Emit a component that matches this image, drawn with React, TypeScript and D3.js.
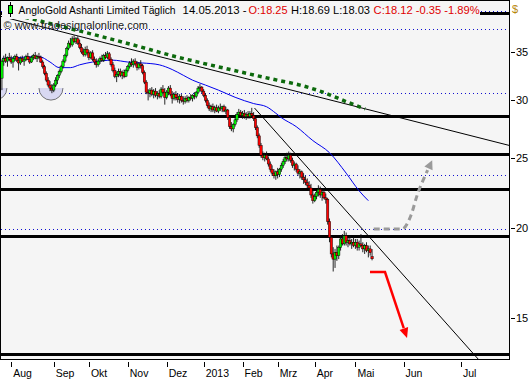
import React from 'react';
import * as d3 from 'd3';

// index 0 = first trading day of Aug 2012; candles from index -5
const firstIndex = -5;
const candles: [number, number, number, number][] = [
  [32.2,34.2,31.0,34.0],[34.0,34.6,33.5,34.3],[34.3,34.8,33.8,34.0],[34.0,34.5,33.4,34.4],[34.4,34.9,34.0,34.2],
  [34.2,34.6,33.7,33.9],[33.9,34.4,33.3,34.3],[34.3,34.7,34.0,34.5],[34.5,34.8,33.9,34.1],[34.1,34.4,33.0,33.8],
  [33.8,34.5,33.6,34.3],[34.3,34.6,33.9,34.0],[34.0,34.4,33.5,34.2],[34.2,34.7,34.0,34.5],[34.5,34.9,34.1,34.2],
  [34.2,34.5,33.7,33.9],[33.9,34.6,33.8,34.4],[34.4,34.8,34.1,34.6],[34.6,35.0,34.2,34.3],[34.3,34.7,33.9,34.5],
  [34.5,34.9,34.2,34.4],[34.4,34.6,33.8,33.9],[33.9,34.1,33.2,33.4],[33.4,33.6,32.5,32.7],[32.7,32.9,31.8,32.0],
  [32.0,32.3,31.3,31.5],[31.5,31.9,30.9,31.2],[31.2,31.6,30.7,31.0],[31.0,31.7,30.8,31.5],[31.5,32.3,31.3,32.0],
  [32.0,32.6,31.6,32.5],[32.5,33.1,32.2,32.9],[32.9,33.6,32.7,33.4],[33.4,34.2,33.2,34.0],[34.0,34.8,33.8,34.6],
  [34.6,35.6,34.4,35.4],[35.4,36.3,35.2,36.0],[36.0,36.6,35.5,35.8],[35.8,36.8,35.6,36.5],[36.5,36.9,36.0,36.2],
  [36.2,36.7,35.9,36.5],[36.5,36.8,35.8,36.0],[36.0,36.4,35.3,35.5],[35.5,35.9,34.8,35.0],[35.0,35.4,34.5,34.7],
  [34.7,35.6,34.5,35.3],[35.3,35.7,34.6,34.9],[34.9,35.2,34.1,34.4],[34.4,35.1,34.2,34.9],[34.9,35.2,34.0,34.2],
  [34.2,34.5,33.6,33.9],[33.9,34.3,33.3,33.6],[33.6,34.2,33.4,34.0],[34.0,34.5,33.7,34.3],[34.3,34.7,33.9,34.1],
  [34.1,34.8,33.9,34.6],[34.6,35.0,34.2,34.4],[34.4,35.1,34.2,34.8],[34.8,35.0,34.0,34.2],[34.2,34.4,33.4,33.6],
  [33.6,33.9,32.8,33.0],[33.0,33.3,32.2,32.4],[32.4,32.9,31.8,32.6],[32.6,33.2,32.3,32.9],[32.9,33.2,32.3,32.5],
  [32.5,33.0,32.1,32.8],[32.8,33.1,32.2,32.4],[32.4,33.2,32.3,33.0],[33.0,33.6,32.8,33.4],[33.4,34.0,33.2,33.8],
  [33.8,34.3,33.4,33.6],[33.6,34.2,33.3,34.0],[34.0,34.3,33.5,33.7],[33.7,34.0,33.0,33.3],[33.3,33.9,33.1,33.7],
  [33.7,34.1,33.2,33.5],[33.5,33.7,32.6,32.8],[32.8,33.0,31.6,31.8],[31.8,32.0,30.6,30.8],[30.8,31.1,30.0,30.7],
  [30.7,31.2,30.3,31.0],[31.0,31.3,30.4,30.6],[30.6,31.1,30.2,30.9],[30.9,31.2,30.3,30.5],[30.5,30.9,30.1,30.7],
  [30.7,31.0,30.2,30.4],[30.4,31.3,30.2,31.1],[31.1,31.5,30.6,30.8],[30.8,31.2,29.6,30.3],[30.3,31.0,30.1,30.8],
  [30.8,31.4,30.5,31.2],[31.2,31.5,30.4,30.6],[30.6,30.9,29.7,30.2],[30.2,30.8,30.0,30.6],[30.6,30.9,30.0,30.3],
  [30.3,30.7,29.8,30.1],[30.1,30.6,29.7,30.4],[30.4,30.6,29.8,30.0],[30.0,30.4,29.6,29.9],[29.9,30.4,29.7,30.2],
  [30.2,30.5,29.8,30.0],[30.0,30.4,29.8,30.3],[30.3,30.6,30.0,30.2],[30.2,30.6,29.9,30.5],[30.5,30.8,30.1,30.4],
  [30.4,30.9,30.2,30.8],[30.8,31.4,30.6,31.2],[31.2,31.6,30.9,31.3],[31.3,31.4,30.7,30.9],[30.9,31.1,30.3,30.5],
  [30.5,30.7,29.8,30.0],[30.0,30.2,29.3,29.5],[29.5,29.8,29.0,29.2],[29.2,29.6,28.9,29.4],[29.4,29.7,28.9,29.1],
  [29.1,29.5,28.8,29.3],[29.3,29.6,28.9,29.0],[29.0,29.5,28.8,29.3],[29.3,29.7,29.0,29.2],[29.2,29.5,28.9,29.4],
  [29.4,29.6,28.9,29.0],[29.0,29.4,28.7,29.1],[29.1,29.2,28.2,28.4],[28.4,28.6,27.4,27.6],[27.6,28.0,27.2,27.4],
  [27.4,27.9,27.1,27.8],[27.8,28.4,27.6,28.2],[28.2,28.9,28.0,28.7],[28.7,29.2,28.4,28.9],[28.9,29.1,28.4,28.6],
  [28.6,29.0,28.3,28.8],[28.8,29.1,28.3,28.5],[28.5,28.9,28.2,28.7],[28.7,29.0,28.3,28.5],[28.5,29.0,28.3,28.8],
  [28.8,29.3,28.5,28.6],[28.6,28.9,28.1,28.3],[28.3,28.5,27.3,27.5],[27.5,27.7,26.6,26.8],[26.8,27.0,25.8,26.0],
  [26.0,26.2,25.0,25.2],[25.2,25.5,24.8,25.0],[25.0,25.4,24.7,25.2],[25.2,25.5,24.8,24.9],[24.9,25.1,24.3,24.5],
  [24.5,24.7,23.9,24.1],[24.1,24.4,23.6,23.8],[23.8,24.1,23.4,23.6],[23.6,24.0,23.3,23.9],[23.9,24.2,23.4,23.7],
  [23.7,24.2,23.5,24.1],[24.1,24.6,23.9,24.4],[24.4,24.9,24.2,24.7],[24.7,25.2,24.5,25.0],[25.0,25.4,24.7,24.9],
  [24.9,25.5,24.7,25.2],[25.2,25.4,24.6,24.8],[24.8,25.0,24.2,24.4],[24.4,24.7,24.0,24.5],[24.5,24.6,23.9,24.1],
  [24.1,24.4,23.6,23.8],[23.8,24.1,23.4,23.9],[23.9,24.0,23.3,23.5],[23.5,23.8,23.0,23.3],[23.3,23.6,22.9,23.1],
  [23.1,23.4,22.7,22.9],[22.9,23.2,22.5,22.7],[22.7,23.0,22.0,22.2],[22.2,22.5,21.6,21.8],[21.8,22.3,21.7,22.1],
  [22.1,22.5,21.9,22.4],[22.4,22.9,22.1,22.6],[22.6,22.8,22.0,22.2],[22.2,22.6,21.8,22.4],[22.4,22.6,21.9,22.0],
  [22.0,22.3,21.6,21.9],[21.9,22.0,20.2,20.4],[20.4,20.6,19.1,19.4],[19.4,19.5,18.2,18.4],[18.4,18.8,17.4,18.1],
  [18.1,18.7,17.6,18.5],[18.5,18.9,18.0,18.3],[18.3,18.9,18.1,18.8],[18.8,19.5,18.6,19.3],[19.3,19.6,18.9,19.0],
  [19.0,19.8,18.9,19.5],[19.5,19.7,18.9,19.1],[19.1,19.4,18.8,19.2],[19.2,19.5,18.9,19.0],[19.0,19.3,18.7,19.1],
  [19.1,19.4,18.8,18.9],[18.9,19.3,18.7,19.1],[19.1,19.3,18.6,18.8],[18.8,19.2,18.6,19.0],[19.0,19.6,18.8,18.9],
  [18.9,19.1,18.5,18.7],[18.7,19.0,18.4,18.9],[18.9,19.1,18.5,18.6],[18.6,18.9,18.2,18.7],[18.7,18.9,18.3,18.47],
  [18.25,18.69,18.03,18.12],
];

// moving average [index, price]
const maPoints: [number, number][] = [
  [-5, 34.3], [5, 34.4], [15, 34.5], [21, 33.9], [26, 33.3], [32, 33.3], [37, 33.6], [44, 33.9],
  [55, 34.1], [63, 33.9], [71, 33.8], [80, 33.6], [87, 33.1], [93, 32.5], [98, 32.0], [105, 31.5],
  [112, 31.0], [121, 30.3], [131, 29.7], [138, 29.4], [143, 28.8], [146, 28.4], [154, 27.6],
  [163, 26.4], [172, 25.4], [181, 23.8], [188, 22.5], [193, 21.8],
];

// green dotted curve
const greenCurve: [number, number][] = [
  [7.5, 39.1], [30.2, 37.8], [46.4, 36.9], [65.8, 35.8], [87.5, 34.56], [118.3, 33.1],
  [143.7, 32.0], [156.1, 31.5], [168.5, 30.8], [181.5, 29.85], [191.2, 29.2],
];

// straight trend lines
const trendLong: [number, number][] = [[-5.5, 39.2], [269, 26.0]];
const trendDown: [number, number][] = [[131.5, 29.28], [252.3, 13.17]];

// horizontal levels
const thickLevels = [39.63, 28.55, 25.3, 22.62, 19.48, 13.38];
const dottedLevels = [39.9, 37.66, 30.72, 23.66, 19.92];

// cycle-low half circles
const cycleLows: [number, number][] = [[-8.8, 31.2], [21.5, 31.2]];

// projection arrows
const grayArrow: [number, number][] = [
  [195.9, 19.92], [211.2, 19.92], [216.1, 20.83], [219.4, 22.2], [222.6, 23.28], [227.5, 24.8],
];
const redArrow: [number, number][] = [[193.9, 17.37], [202, 17.37], [213.9, 14.08]];

const yTicks = [15, 20, 25, 30, 35];
const monthTicks: [number, string][] = [
  [0, 'Aug'], [23, 'Sep'], [42, 'Okt'], [63, 'Nov'], [84, 'Dez'], [104, '2013'],
  [125, 'Feb'], [144, 'Mrz'], [164, 'Apr'], [186, 'Mai'], [212, 'Jun'], [243, 'Jul'],
];

const titleParts: { text: string; x: number; len: number; color: string }[] = [
  { text: 'AngloGold Ashanti Limited Täglich', x: 18.6, len: 157, color: '#000' },
  { text: '14.05.2013 -', x: 182.6, len: 64, color: '#000' },
  { text: 'O:18.25', x: 248.5, len: 39, color: '#e00000' },
  { text: 'H:18.69 L:18.03', x: 291, len: 79, color: '#000' },
  { text: 'C:18.12 -0.35 -1.89%', x: 373.6, len: 106, color: '#e00000' },
];

const PLOT = { left: 1, right: 509, top: 1, bottom: 359 };

function arrowHead(p0: [number, number], p1: [number, number], len: number, half: number) {
  const dx = p1[0] - p0[0], dy = p1[1] - p0[1];
  const d = Math.hypot(dx, dy) || 1;
  const ux = dx / d, uy = dy / d;
  const bx = p1[0] - ux * len, by = p1[1] - uy * len;
  return `M${p1[0]},${p1[1]}L${bx - uy * half},${by + ux * half}L${bx + uy * half},${by - ux * half}Z`;
}

export default function App() {
  const x = d3.scaleLinear().domain([-5.5, 269]).range([PLOT.left, PLOT.right]);
  const y = d3.scaleLog().domain([13.17, 41.17]).range([PLOT.bottom, PLOT.top]);

  const lin = d3.line<[number, number]>().x(d => x(d[0])).y(d => y(d[1]));
  const smooth = d3.line<[number, number]>().x(d => x(d[0])).y(d => y(d[1])).curve(d3.curveMonotoneX);

  const grayPx = grayArrow.map(d => [x(d[0]), y(d[1])] as [number, number]);
  const redPx = redArrow.map(d => [x(d[0]), y(d[1])] as [number, number]);
  const gn = grayPx.length, rn = redPx.length;

  const bodyW = 2.4;
  const r = 12;

  return (
    <>
      <style>{'body{margin:0;}'}</style>
      <svg width={531} height={380} style={{ display: 'block' }} fontFamily="'Liberation Sans', Arial, sans-serif">
        <defs>
          <clipPath id="plotClip">
            <rect x={PLOT.left} y={PLOT.top} width={PLOT.right - PLOT.left} height={PLOT.bottom - PLOT.top} />
          </clipPath>
        </defs>
        <rect x={0} y={0} width={531} height={380} fill="#fff" />
        <rect x={PLOT.left} y={PLOT.top} width={PLOT.right - PLOT.left} height={PLOT.bottom - PLOT.top} fill="#f5f5f5" />

        <g clipPath="url(#plotClip)">
          {dottedLevels.map((v, i) => (
            <line key={'dl' + i} x1={PLOT.left} x2={PLOT.right} y1={Math.round(y(v)) + 0.5} y2={Math.round(y(v)) + 0.5}
              stroke="#1010d0" strokeWidth={1} strokeDasharray="1 3" />
          ))}
          {thickLevels.map((v, i) => (
            <line key={'tl' + i} x1={PLOT.left} x2={PLOT.right} y1={Math.round(y(v))} y2={Math.round(y(v))}
              stroke="#000" strokeWidth={3} shapeRendering="crispEdges" />
          ))}

          {cycleLows.map((d, i) => {
            const cx = x(d[0]), cy = y(d[1]);
            const p = `M${cx - r},${cy}A${r},${r} 0 0 0 ${cx + r},${cy}`;
            return (
              <g key={'cl' + i}>
                <path d={p + 'Z'} fill="#d8d8f2" />
                <path d={p} fill="none" stroke="#555" strokeWidth={0.8} />
              </g>
            );
          })}

          <path d={lin(trendLong) || ''} fill="none" stroke="#000" strokeWidth={1} />
          <path d={lin(trendDown) || ''} fill="none" stroke="#000" strokeWidth={1} />

          <path d={smooth(greenCurve) || ''} fill="none" stroke="#0d6a0d" strokeWidth={3.5} strokeDasharray="4 4" />

          <path d={smooth(maPoints) || ''} fill="none" stroke="#0000ee" strokeWidth={1} />

          {/* candles: wicks first, then bodies */}
          {candles.map((c, k) => {
            const [, h, l] = c;
            const cx = x(firstIndex + k);
            return <line key={'w' + k} x1={cx} x2={cx} y1={y(h)} y2={y(l)} stroke="#111" strokeWidth={0.9} />;
          })}
          {candles.map((c, k) => {
            const [o, , , cl] = c;
            const cx = x(firstIndex + k);
            const top = y(Math.max(o, cl));
            const bot = y(Math.min(o, cl));
            const up = cl >= o;
            return (
              <rect key={'b' + k} x={cx - bodyW / 2} y={top} width={bodyW} height={Math.max(1, bot - top)}
                fill={up ? '#00f000' : '#ff0000'} stroke="#000" strokeWidth={0.45} />
            );
          })}

          <path d={d3.line().curve(d3.curveMonotoneX)(grayPx.slice(0, gn - 1).concat([[
            grayPx[gn - 1][0] - (grayPx[gn - 1][0] - grayPx[gn - 2][0]) * 0.5,
            grayPx[gn - 1][1] - (grayPx[gn - 1][1] - grayPx[gn - 2][1]) * 0.5]])) || ''}
            fill="none" stroke="#9a9a9a" strokeWidth={3} strokeDasharray="6 4" />
          <path d={arrowHead(grayPx[gn - 2], grayPx[gn - 1], 9, 4.5)} fill="#9a9a9a" />

          <path d={d3.line()(redPx.slice(0, rn - 1).concat([[
            redPx[rn - 1][0] - (redPx[rn - 1][0] - redPx[rn - 2][0]) * 0.15,
            redPx[rn - 1][1] - (redPx[rn - 1][1] - redPx[rn - 2][1]) * 0.15]])) || ''}
            fill="none" stroke="#ff0000" strokeWidth={2.5} />
          <path d={arrowHead(redPx[rn - 2], redPx[rn - 1], 10, 4.5)} fill="#ff0000" />
        </g>

        {/* title */}
        <rect x={2} y={2} width={478} height={17} fill="#f5f5f5" />
        <line x1={10.5} x2={10.5} y1={2} y2={17} stroke="#000" strokeWidth={1} />
        <rect x={8.5} y={5.5} width={4} height={8} fill="#00f000" stroke="#000" strokeWidth={1} />
        {titleParts.map((t, i) => (
          <text key={'t' + i} x={t.x} y={14} fontSize={11} fill={t.color} textLength={t.len} lengthAdjust="spacingAndGlyphs">{t.text}</text>
        ))}
        <text x={3.5} y={29} fontSize={11} fill="#222">© www.tradesignalonline.com</text>

        <rect x={PLOT.left - 0.5} y={PLOT.top - 0.5} width={PLOT.right - PLOT.left + 1} height={PLOT.bottom - PLOT.top + 1}
          fill="none" stroke="#000" strokeWidth={1} shapeRendering="crispEdges" />

        <text x={512} y={13} fontSize={11} fill="#b8860b">$</text>
        {yTicks.map(v => (
          <g key={'y' + v}>
            <line x1={511} x2={515} y1={Math.round(y(v)) + 0.5} y2={Math.round(y(v)) + 0.5} stroke="#000" strokeWidth={1} />
            <text x={516} y={y(v)} dy="0.35em" fontSize={11} fill="#000">{v}</text>
          </g>
        ))}

        {monthTicks.map(([i, lab]) => (
          <g key={'m' + lab}>
            <line x1={Math.round(x(i)) + 0.5} x2={Math.round(x(i)) + 0.5} y1={362} y2={367} stroke="#000" strokeWidth={1} />
            <text x={x(i) + 2} y={377} fontSize={10.5} fill="#000">{lab}</text>
          </g>
        ))}
      </svg>
    </>
  );
}
